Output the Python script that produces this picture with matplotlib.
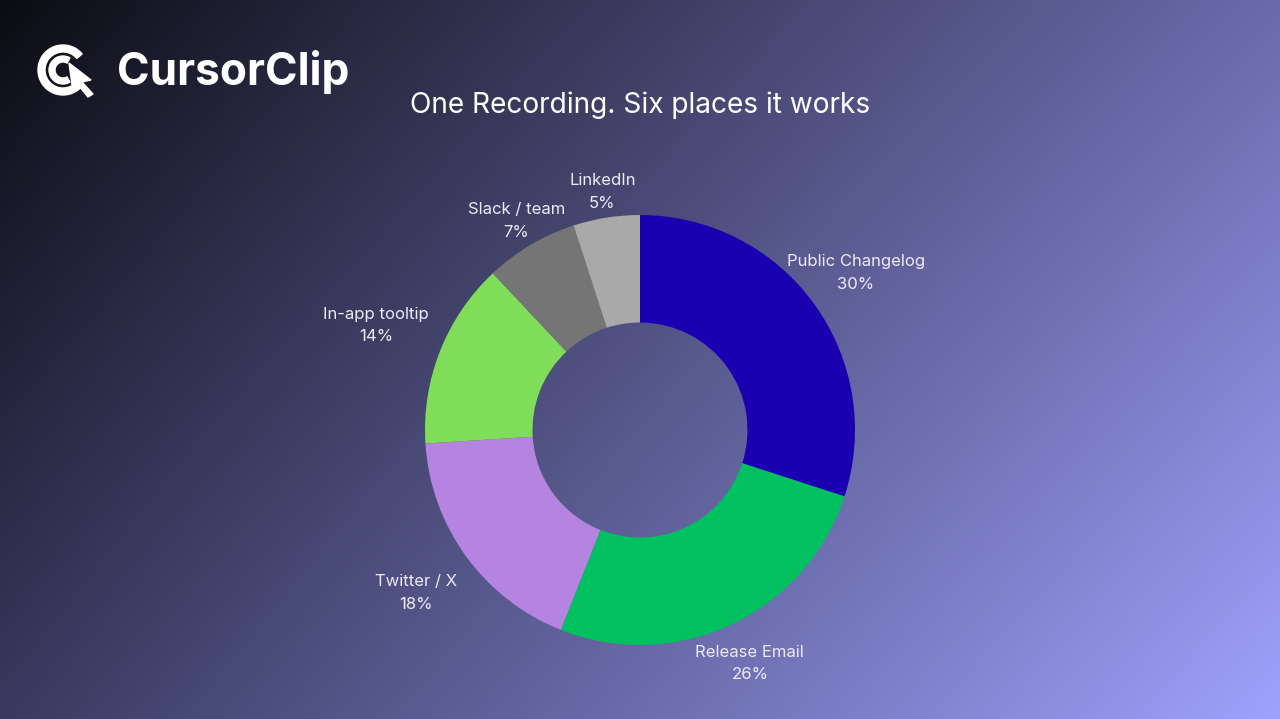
import numpy as np
import matplotlib
matplotlib.use("Agg")
import matplotlib.pyplot as plt
from matplotlib.patches import Wedge, Polygon
from matplotlib.colors import to_rgb

# ---- data ----
categories = ["Public Changelog", "Release Email", "Twitter / X",
              "In-app tooltip", "Slack / team", "LinkedIn"]
shares = [30, 26, 18, 14, 7, 5]
colors = ["#1a00b0", "#00c060", "#b583e0", "#80dd5a", "#757575", "#a9a9a9"]
title = "One Recording. Six places it works"
brand = "CursorClip"

# layout: radial distance of each label (in units of outer radius)
label_dist = [1.24, 1.20, 1.29, 1.32, 1.13, 1.12]

plt.rcParams['font.family'] = ['Inter', 'DejaVu Sans']

W, H = 1280, 719
fig = plt.figure(figsize=(W / 100, H / 100), dpi=100)

# ---- background gradient (bilinear) ----
bg = fig.add_axes([0, 0, 1, 1], zorder=-10)
tl, tr = np.array(to_rgb("#0c0c13")), np.array(to_rgb("#6a6bab"))
bl, br = np.array(to_rgb("#383a5f")), np.array(to_rgb("#a0a1fc"))
yy, xx = np.mgrid[0:1:200j, 0:1:360j]
img = ((1 - xx)[..., None] * (1 - yy)[..., None] * tl + xx[..., None] * (1 - yy)[..., None] * tr
       + (1 - xx)[..., None] * yy[..., None] * bl + xx[..., None] * yy[..., None] * br)
bg.imshow(img, aspect='auto', extent=[0, 1, 1, 0], interpolation='bilinear')
bg.set_xlim(0, 1); bg.set_ylim(1, 0)
bg.axis('off')

# ---- donut ----
cx, cy, R = 640, 430, 215
ax = fig.add_axes([(cx - R) / W, (H - cy - R) / H, 2 * R / W, 2 * R / H])
wedges, _ = ax.pie(shares, colors=colors, startangle=90, counterclock=False,
                   radius=1.0, wedgeprops=dict(width=0.5, linewidth=0))
ax.set_xlim(-1, 1); ax.set_ylim(-1, 1)
ax.set_aspect('equal')
ax.axis('off')
for w, name, val, d in zip(wedges, categories, shares, label_dist):
    ang = np.deg2rad((w.theta1 + w.theta2) / 2)
    ax.text(d * np.cos(ang), d * np.sin(ang), f"{name}\n{val}%",
            ha='center', va='center', multialignment='center',
            color='#ecebf5', fontsize=12, linespacing=1.65, clip_on=False)

# ---- title ----
fig.text(640 / W, 1 - 105 / H, title, ha='center', va='center',
         color='white', fontsize=20.2)

# ---- logo ----
fig.text(117 / W, 1 - 72 / H, brand, ha='left', va='center',
         color='white', fontsize=31.8, fontweight='bold')
lg = fig.add_axes([30 / W, 1 - 105 / H, 70 / W, 70 / H])
lg.set_xlim(30, 100); lg.set_ylim(105, 35)
lg.axis('off')
lg.add_patch(Wedge((63, 70), 25, 40, 320, width=7, color='white'))
lg.add_patch(Wedge((63, 70), 14, 60, 300, width=6, color='white'))
lg.add_patch(Polygon([(69, 63), (91, 80), (82, 82), (93, 94), (88, 97),
                      (79, 86), (73, 92)], closed=True, color='white'))

fig.savefig("out.png", dpi=100)
